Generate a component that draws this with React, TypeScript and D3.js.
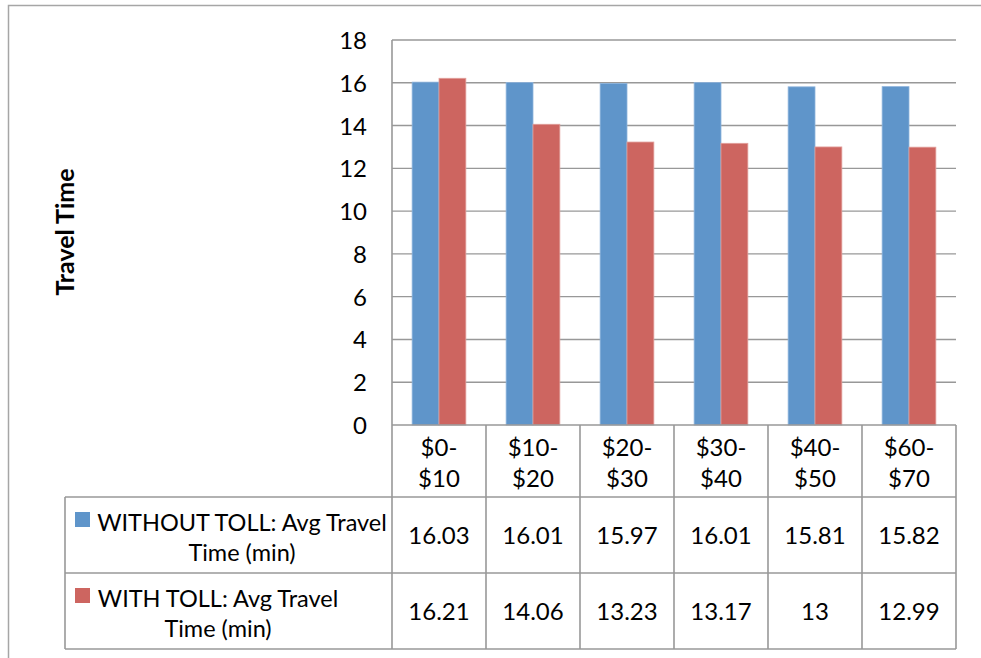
import React from "react";
import * as d3 from "d3";

const categories = ["$0-|$10", "$10-|$20", "$20-|$30", "$30-|$40", "$40-|$50", "$60-|$70"];
const withoutToll = [16.03, 16.01, 15.97, 16.01, 15.81, 15.82];
const withToll = [16.21, 14.06, 13.23, 13.17, 13, 12.99];
const yTicks = [0, 2, 4, 6, 8, 10, 12, 14, 16, 18];

const series = [
  { key: "without", lines: ["WITHOUT TOLL: Avg Travel", "Time (min)"], values: withoutToll, color: "#5F95CA", edge: "#8DB3DC" },
  { key: "with", lines: ["WITH TOLL: Avg Travel", "Time (min)"], values: withToll, color: "#CD6560", edge: "#E2A09C" },
];

const W = 981;
const H = 658;
const plot = { left: 392, right: 956, top: 40, bottom: 425 };
const table = { left: 65, header: 497, rowH: 76 };
const font = "Lato, 'Open Sans', sans-serif";
const fs = 24;
const gridColor = "#989898";

export default function App() {
  const x = d3
    .scaleBand()
    .domain(categories)
    .range([plot.left, plot.right])
    .paddingInner(1.5 / 3.5)
    .paddingOuter(0.75 / 3.5);

  const xs = d3
    .scaleBand()
    .domain(series.map((s) => s.key))
    .range([0, x.bandwidth()]);

  const y = d3.scaleLinear().domain([0, 18]).range([plot.bottom, plot.top]);
  const step = x.step();

  return (
    <div style={{ position: "fixed", left: 0, top: 0 }}>
      <svg width={W} height={H} style={{ display: "block", background: "#fff" }}>
        {/* outer frame */}
        <rect x={8.5} y={5.5} width={W + 10} height={H + 10} fill="none" stroke="#A6A6A6" strokeWidth={1.5} />

        {/* y axis label */}
        <text
          transform={`translate(74,232) rotate(-90)`}
          textAnchor="middle"
          fontFamily={font}
          fontWeight="bold"
          fontSize={25}
          fill="#000"
        >
          Travel Time
        </text>

        {/* gridlines and ticks */}
        {yTicks.map((t) => (
          <g key={t}>
            {t > 0 && (
              <line x1={plot.left} x2={plot.right} y1={y(t)} y2={y(t)} stroke={gridColor} strokeWidth={1.4} />
            )}
            <text x={367} y={y(t) + 9} textAnchor="end" fontFamily={font} fontSize={fs} fill="#000">
              {t}
            </text>
          </g>
        ))}

        {/* bars */}
        {categories.map((c, i) => (
          <g key={c}>
            {series.map((s) => {
              const bx = x(c)! + xs(s.key)!;
              const by = y(s.values[i]);
              return (
                <rect
                  key={s.key}
                  x={bx}
                  y={by}
                  width={xs.bandwidth()}
                  height={y(0) - by}
                  fill={s.color}
                  stroke={s.edge}
                  strokeWidth={0.8}
                />
              );
            })}
          </g>
        ))}

        {/* axis lines */}
        <line x1={plot.left} x2={plot.left} y1={plot.top} y2={table.header + 2 * table.rowH} stroke={gridColor} strokeWidth={1.6} />
        <line x1={plot.left} x2={plot.right} y1={plot.bottom} y2={plot.bottom} stroke={gridColor} strokeWidth={1.6} />

        {/* data table */}
        {categories.map((c, i) => {
          const cx = plot.left + step * i + step / 2;
          const [a, b] = c.split("|");
          return (
            <g key={c}>
              <line
                x1={plot.left + step * (i + 1)}
                x2={plot.left + step * (i + 1)}
                y1={plot.bottom}
                y2={table.header + 2 * table.rowH}
                stroke={gridColor}
                strokeWidth={1.6}
              />
              <text x={cx} y={456} textAnchor="middle" fontFamily={font} fontSize={fs} fill="#000">
                {a}
              </text>
              <text x={cx} y={487} textAnchor="middle" fontFamily={font} fontSize={fs} fill="#000">
                {b}
              </text>
              {series.map((s, r) => (
                <text
                  key={s.key}
                  x={cx}
                  y={table.header + r * table.rowH + table.rowH / 2 + 9}
                  textAnchor="middle"
                  fontFamily={font}
                  fontSize={fs}
                  fill="#000"
                >
                  {s.values[i]}
                </text>
              ))}
            </g>
          );
        })}

        {[0, 1, 2].map((r) => (
          <line
            key={r}
            x1={table.left}
            x2={plot.right}
            y1={table.header + r * table.rowH}
            y2={table.header + r * table.rowH}
            stroke={gridColor}
            strokeWidth={1.6}
          />
        ))}
        <line x1={table.left} x2={table.left} y1={table.header} y2={table.header + 2 * table.rowH} stroke={gridColor} strokeWidth={1.6} />

        {/* legend keys in table */}
        {series.map((s, r) => {
          const top = table.header + r * table.rowH;
          const widths = [290, 242];
          const blockCenter = 97 + widths[r] / 2;
          return (
            <g key={s.key}>
              <rect x={75} y={top + 15} width={15} height={15} fill={s.color} />
              <text x={blockCenter} y={top + 34} textAnchor="middle" fontFamily={font} fontSize={23.5} fill="#000">
                {s.lines[0]}
              </text>
              <text x={blockCenter} y={top + 64} textAnchor="middle" fontFamily={font} fontSize={23.5} fill="#000">
                {s.lines[1]}
              </text>
            </g>
          );
        })}
      </svg>
    </div>
  );
}
